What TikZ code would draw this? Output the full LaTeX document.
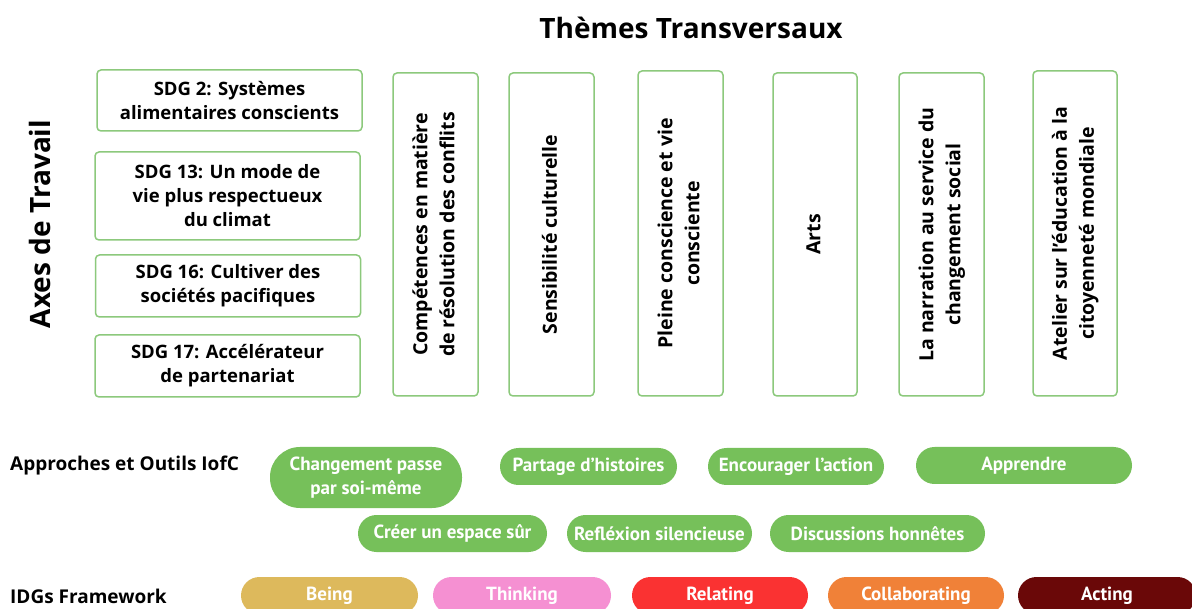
\documentclass[tikz,border=0pt]{standalone}
\usepackage{fontspec}
\usepackage{graphicx}
\setmainfont{Open Sans}
\newfontfamily\pillfont{PT Sans}
\definecolor{boxgreen}{HTML}{8CC97C}
\definecolor{pillgreen}{HTML}{76C05A}
\definecolor{being}{HTML}{DDB95C}
\definecolor{thinking}{HTML}{F590D2}
\definecolor{relating}{HTML}{FA3232}
\definecolor{collab}{HTML}{F08138}
\definecolor{acting}{HTML}{6A0808}
\tikzset{
  hbox/.style={draw=boxgreen, line width=1.5pt, rounded corners=4pt, align=center, inner sep=0pt,
    font=\bfseries\fontsize{18.5}{24}\selectfont},
  vtext/.style={font=\bfseries\fontsize{19.5}{27}\selectfont},
  pill/.style={fill=pillgreen, text=white, align=center, inner sep=0pt, minimum height=37pt,
    rounded corners=18.5pt, font=\pillfont\bfseries\fontsize{19}{24}\selectfont},
  label/.style={anchor=west, inner sep=0pt, font=\bfseries\fontsize{19}{22}\selectfont},
}
\newcommand{\vlines}[1]{\rotatebox{90}{\begin{tabular}{@{}c@{}}#1\end{tabular}}}
\begin{document}
\begin{tikzpicture}[x=1pt,y=-1pt]
\useasboundingbox[fill=white] (0,0) rectangle (1192,609);

\node[inner sep=0pt, font=\bfseries\fontsize{28}{32}\selectfont] (title) at (691,28) {Thèmes Transversaux};
\node[inner sep=0pt, rotate=90, font=\bfseries\fontsize{28}{30}\selectfont] (axes) at (40,224) {Axes de Travail};

\node[hbox, minimum width=265pt, minimum height=61pt] (b1) at (229.5,100.5) {SDG 2: Systèmes\\alimentaires conscients};
\node[hbox, minimum width=265pt, minimum height=88pt] (b2) at (227.5,196) {SDG 13: Un mode de\\vie plus respectueux\\du climat};
\node[hbox, minimum width=265pt, minimum height=62pt] (b3) at (228,286) {SDG 16: Cultiver des\\sociétés pacifiques};
\node[hbox, minimum width=265pt, minimum height=62pt] (b4) at (227.5,366) {SDG 17: Accélérateur\\de partenariat};

\node[hbox, vtext, minimum width=85pt, minimum height=323pt] (v1) at (435.5,234.5) {\vlines{Compétences en matière\\de résolution des conflits}};
\node[hbox, vtext, minimum width=85pt, minimum height=323pt] (v2) at (551.5,234.5) {\vlines{Sensibilité culturelle}};
\node[hbox, vtext, minimum width=85pt, minimum height=325pt] (v3) at (680.5,233.5) {\vlines{Pleine conscience et vie\\consciente}};
\node[hbox, vtext, minimum width=84pt, minimum height=323pt] (v4) at (815,234.5) {\vlines{Arts}};
\node[hbox, vtext, minimum width=85pt, minimum height=323pt] (v5) at (941.5,234.5) {\vlines{La narration au service du\\changement social}};
\node[hbox, vtext, minimum width=84pt, minimum height=325pt] (v6) at (1075,233.5) {\vlines{Atelier sur l'éducation à la\\citoyenneté mondiale}};

\node[label] (lapp) at (10,466) {Approches et Outils IofC};
\node[label] (lidg) at (10,596) {IDGs Framework};

\node[pill, minimum width=192pt, minimum height=61pt, rounded corners=30pt] (p1) at (366,477.5) {Changement passe\\par soi-même};
\node[pill, minimum width=177pt] (p2) at (588.5,466.5) {Partage d’histoires};
\node[pill, minimum width=176pt] (p3) at (796,466.5) {Encourager l’action};
\node[pill, minimum width=216pt] (p4) at (1024,465.5) {Apprendre};
\node[pill, minimum width=189pt] (p5) at (452.5,533.5) {Créer un espace sûr};
\node[pill, minimum width=185pt] (p6) at (659.5,533.5) {Refléxion silencieuse};
\node[pill, minimum width=215pt] (p7) at (877.5,533.5) {Discussions honnêtes};

\node[pill, fill=being, minimum width=177pt] (being) at (329.5,595.5) {Being};
\node[pill, fill=thinking, minimum width=178pt] (thinking) at (522,595.5) {Thinking};
\node[pill, fill=relating, minimum width=176pt] (relating) at (720,595.5) {Relating};
\node[pill, fill=collab, minimum width=176pt] (collab) at (916,595.5) {Collaborating};
\node[pill, fill=acting, minimum width=178pt] (acting) at (1107,595.5) {Acting};
\end{tikzpicture}
\end{document}
